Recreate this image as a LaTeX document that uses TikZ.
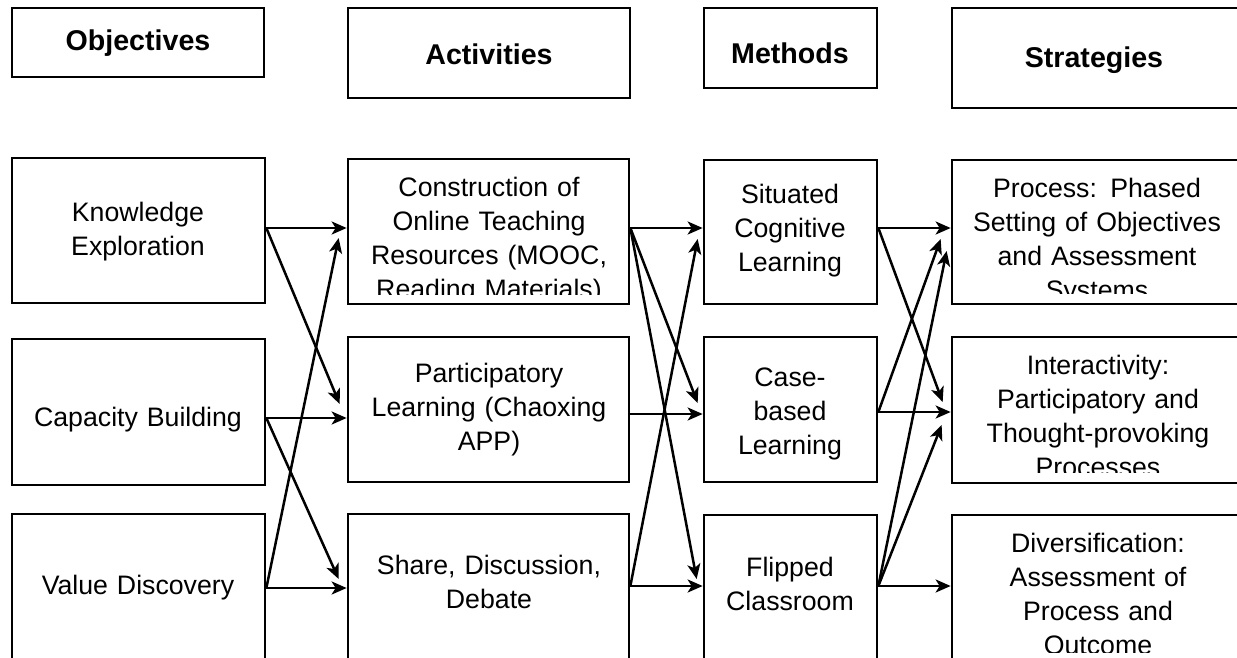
\documentclass[tikz,border=0pt]{standalone}
\usepackage{fontspec}
\setmainfont{Liberation Sans}
\usetikzlibrary{arrows.meta,calc}
\newcommand{\mystrut}{\rule[-8.5pt]{0pt}{34pt}}
\begin{document}
\begin{tikzpicture}[x=1pt,y=-1pt,
  box/.style={draw, line width=2.7pt, inner sep=0pt},
  txt/.style={font=\fontsize{26.7}{34}\selectfont, align=center, inner sep=0pt, text width=300pt,
    execute at begin node={\mystrut}, execute at end node={\mystrut}},
  head/.style={font=\bfseries\fontsize{28.6}{34}\selectfont, align=center, inner sep=0pt},
  arr/.style={line width=2.5pt, -{Stealth[length=15pt,width=13pt,inset=4pt]}}]
\clip (0,0) rectangle (1237,657);
\fill[white] (0,0) rectangle (1237,657);
% header boxes
\node[box, minimum width=252pt, minimum height=69pt] (hobj) at (138,42.5) {};
\node[box, minimum width=282pt, minimum height=90pt] (hact) at (489,53) {};
\node[box, minimum width=173pt, minimum height=80pt] (hmet) at (790.5,48) {};
\node[box, minimum width=298pt, minimum height=100pt] (hstr) at (1101,58) {};
\node[head] (tobj) at (138,43) {Objectives};
\node[head] (tact) at (489,54) {Activities};
\node[head] (tmet) at (790,53) {Methods};
\node[head] (tstr) at (1094,60) {Strategies};
% body boxes
\node[box, minimum width=253pt, minimum height=145pt] (ke) at (138.5,230.5) {};
\node[box, minimum width=253pt, minimum height=146pt] (cb) at (138.5,412) {};
\node[box, minimum width=253pt, minimum height=166pt] (vd) at (138.5,597) {};
\node[box, minimum width=281pt, minimum height=145pt] (co) at (488.5,231.5) {};
\node[box, minimum width=281pt, minimum height=145pt] (pl) at (488.5,409.5) {};
\node[box, minimum width=281pt, minimum height=166pt] (sh) at (488.5,597) {};
\node[box, minimum width=173pt, minimum height=144pt] (si) at (790.5,232) {};
\node[box, minimum width=173pt, minimum height=145pt] (ca) at (790.5,409.5) {};
\node[box, minimum width=173pt, minimum height=165pt] (fl) at (790.5,597.5) {};
\node[box, minimum width=298pt, minimum height=144pt] (pr) at (1101,232) {};
\node[box, minimum width=298pt, minimum height=146pt] (in) at (1101,410) {};
\node[box, minimum width=298pt, minimum height=165pt] (di) at (1101,597.5) {};
% texts
\node[txt] (tke) at (138,229.5) {Knowledge\\Exploration};
\node[txt] (tcb) at (138,418) {Capacity Building};
\node[txt] (tvd) at (138,586) {Value Discovery};
\begin{scope}
\clip (350,161) rectangle (627,294);
\node[txt] (tco) at (489,239) {Construction of\\Online Teaching\\Resources (MOOC,\\Reading Materials)};
\end{scope}
\node[txt] (tpl) at (489,408) {Participatory\\Learning (Chaoxing\\APP)};
\node[txt] (tsh) at (489,583) {Share, Discussion,\\Debate};
\node[txt] (tsi) at (790,229) {Situated\\Cognitive\\Learning};
\node[txt] (tca) at (790,412) {Case-\\based\\Learning};
\node[txt] (tfl) at (790,585) {Flipped\\Classroom};
\begin{scope}
\clip (954,162) rectangle (1237,293);
\node[txt] (tpr) at (1097,240) {Process: Phased\\Setting of Objectives\\and Assessment\\Systems};
\end{scope}
\begin{scope}
\clip (954,339) rectangle (1237,472);
\node[txt] (tin) at (1098,417) {Interactivity:\\Participatory and\\Thought-provoking\\Processes};
\end{scope}
\begin{scope}
\clip (954,517) rectangle (1237,652);
\node[txt] (tdi) at (1098,595) {Diversification:\\Assessment of\\Process and\\Outcome};
\end{scope}
% connectors: objectives -> activities
\draw[arr] ([yshift=2.5pt]ke.east) -- ([yshift=2.5pt]ke.east -| co.west);
\draw[arr] ([yshift=2.5pt]ke.east) -- ([xshift=-7pt,yshift=5.5pt]pl.west);
\draw[arr] ([yshift=-6pt]cb.east) -- ([yshift=-6pt]cb.east -| pl.west);
\draw[arr] ([yshift=-6pt]cb.east) -- ([xshift=-8pt,yshift=18pt]sh.west);
\draw[arr] ([yshift=9pt]vd.east) -- ([yshift=9pt]vd.east -| sh.west);
\draw[arr] ([yshift=9pt]vd.east) -- ([xshift=-8pt,yshift=-6.5pt]co.west);
% activities -> methods
\draw[arr] ([yshift=3.5pt]co.east) -- ([yshift=3.5pt]co.east -| si.west);
\draw[arr] ([yshift=3.5pt]co.east) -- ([xshift=-5pt,yshift=6.5pt]ca.west);
\draw[arr] ([yshift=3.5pt]co.east) -- ([xshift=-6pt,yshift=18.5pt]fl.west);
\draw[arr] ([yshift=-4.5pt]pl.east) -- ([yshift=-4.5pt]pl.east -| ca.west);
\draw[arr] ([yshift=11pt]sh.east) -- ([yshift=11pt]sh.east -| fl.west);
\draw[arr] ([yshift=11pt]sh.east) -- ([xshift=-5pt,yshift=-7pt]si.west);
% methods -> strategies
\draw[arr] ([yshift=4pt]si.east) -- ([yshift=4pt]si.east -| pr.west);
\draw[arr] ([yshift=4pt]si.east) -- ([xshift=-8pt,yshift=8pt]in.west);
\draw[arr] ([yshift=-2.5pt]ca.east) -- ([yshift=-2.5pt]ca.east -| in.west);
\draw[arr] ([yshift=-2.5pt]ca.east) -- ([xshift=-10pt,yshift=-7pt]pr.west);
\draw[arr] ([yshift=11.5pt]fl.east) -- ([xshift=-4pt,yshift=-19pt]pr.west);
\draw[arr] ([yshift=11.5pt]fl.east) -- ([xshift=-9pt,yshift=-15pt]in.west);
\draw[arr] ([yshift=11.5pt]fl.east) -- ([yshift=11.5pt]fl.east -| di.west);
\end{tikzpicture}
\end{document}
